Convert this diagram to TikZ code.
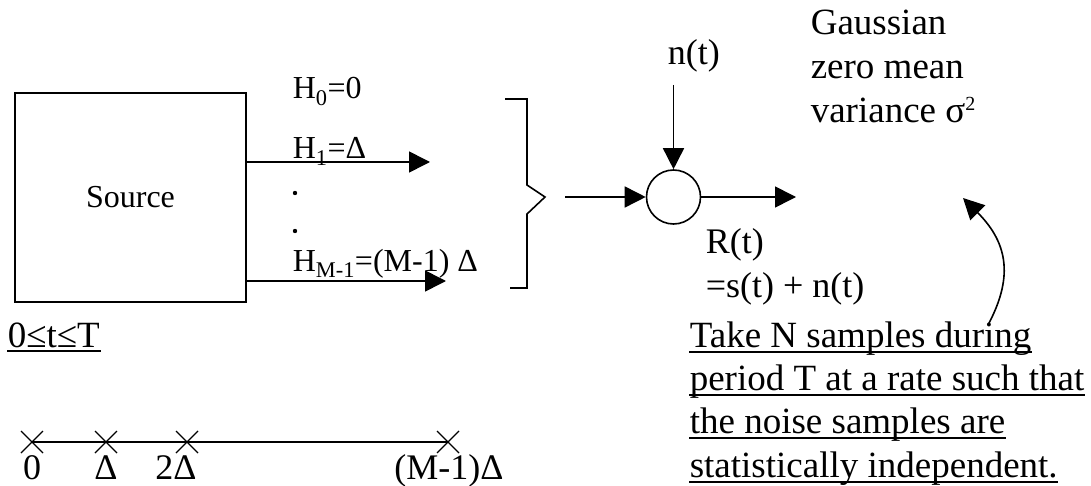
\documentclass[tikz,border=0pt]{standalone}
\usepackage{fontspec}
\setmainfont{Liberation Serif}
\usetikzlibrary{arrows.meta}
\begin{document}
\begin{tikzpicture}[x=1pt,y=-1pt,
  line width=1.6pt,
  arr/.style={-{Triangle[length=21pt,width=21pt]}},
  big/.style={inner sep=0pt,anchor=base west,font=\fontsize{37}{43}\selectfont},
  mid/.style={inner sep=0pt,anchor=base west,font=\fontsize{36}{43}\selectfont},
  small/.style={inner sep=0pt,anchor=base west,font=\fontsize{32}{38}\selectfont},
  axlab/.style={inner sep=0pt,anchor=base,font=\fontsize{36}{43}\selectfont},
  ul/.style={line width=1.6pt}]
\useasboundingbox (0,0) rectangle (1091,486);
% source
\node[draw,minimum width=231pt,minimum height=209pt,inner sep=0pt,
      font=\fontsize{32}{38}\selectfont] (src) at (130.5,197.5) {Source};
\node[small] (h0) at (292,99) {H\textsubscript{0}=0};
\node[small] (h1) at (292,159) {H\textsubscript{1}=Δ};
\node[small] (hm) at (292,271) {H\textsubscript{M-1}=(M-1) Δ};
\fill (295,193) circle (2.2pt);
\fill (295,231) circle (2.2pt);
\coordinate (t1) at (430,162);
\coordinate (tm) at (446,281);
\draw[arr] (src.east |- t1) -- (t1);
\draw[arr] (src.east |- tm) -- (tm);
% bracket
\coordinate (btip) at (545,197);
\draw[line width=1.6pt] (505,99) -- (527,99) -- (527,185) -- (btip) -- (527,214) -- (527,288) -- (510,288);
% summing junction
\node[draw,circle,minimum size=54pt,inner sep=0pt] (sum) at (673.5,197) {};
\coordinate (in) at (565,197);
\draw[arr] (in) -- (sum.west);
\coordinate (ntop) at (673.5,85);
\draw[arr] (ntop) -- (sum.north);
\node[mid] (nt) at (667,65) {n(t)};
\coordinate (out) at (796,197);
\draw[arr] (sum.east) -- (out);
\node[mid] (rt) at (705,253) {R(t)};
\node[mid] (rt2) at (705,297) {=s(t) + n(t)};
% gaussian
\node[big] (g1) at (810,35) {Gaussian};
\node[big] (g2) at (810,79) {zero mean};
\node[big] (g3) at (810,123) {variance σ\raisebox{3pt}{\textsuperscript{\fontsize{20}{20}\selectfont 2}}};
% curved arrow
\coordinate (cs) at (988,325);
\coordinate (ce) at (963,198);
\draw[arr] (cs) .. controls (1012,280) and (1010,245) .. (ce);
% note text
\node[big] (n1) at (689,347) {Take N samples during};
\node[big] (n2) at (689,390) {period T at a rate such that};
\node[big] (n3) at (689,433) {the noise samples are};
\node[big] (n4) at (689,477) {statistically independent.};
\foreach \n in {n1,n2,n3,n4}{
  \draw[ul] ([yshift=-5pt]\n.base west) -- ([yshift=-5pt]\n.base east);
}
\node[big] (tt) at (7,347) {0≤t≤T};
\draw[ul] ([yshift=-4pt]tt.base west) -- ([yshift=-4pt]tt.base east);
% axis
\coordinate (a0) at (32,442);
\coordinate (a1) at (106,442);
\coordinate (a2) at (187,442);
\coordinate (a3) at (448,442);
\draw (a0) -- (a3);
\foreach \a in {a0,a1,a2,a3}{
  \draw[line width=1.3pt] ([shift={(-11,-11)}]\a) -- ([shift={(11,11)}]\a)
        ([shift={(-11,11)}]\a) -- ([shift={(11,-11)}]\a);
}
\node[axlab] (l0) at (32,479) {0};
\node[axlab] (l1) at (106,479) {Δ};
\node[axlab] (l2) at (176,479) {2Δ};
\node[axlab] (l3) at (449,479) {(M-1)Δ};
\end{tikzpicture}
\end{document}
